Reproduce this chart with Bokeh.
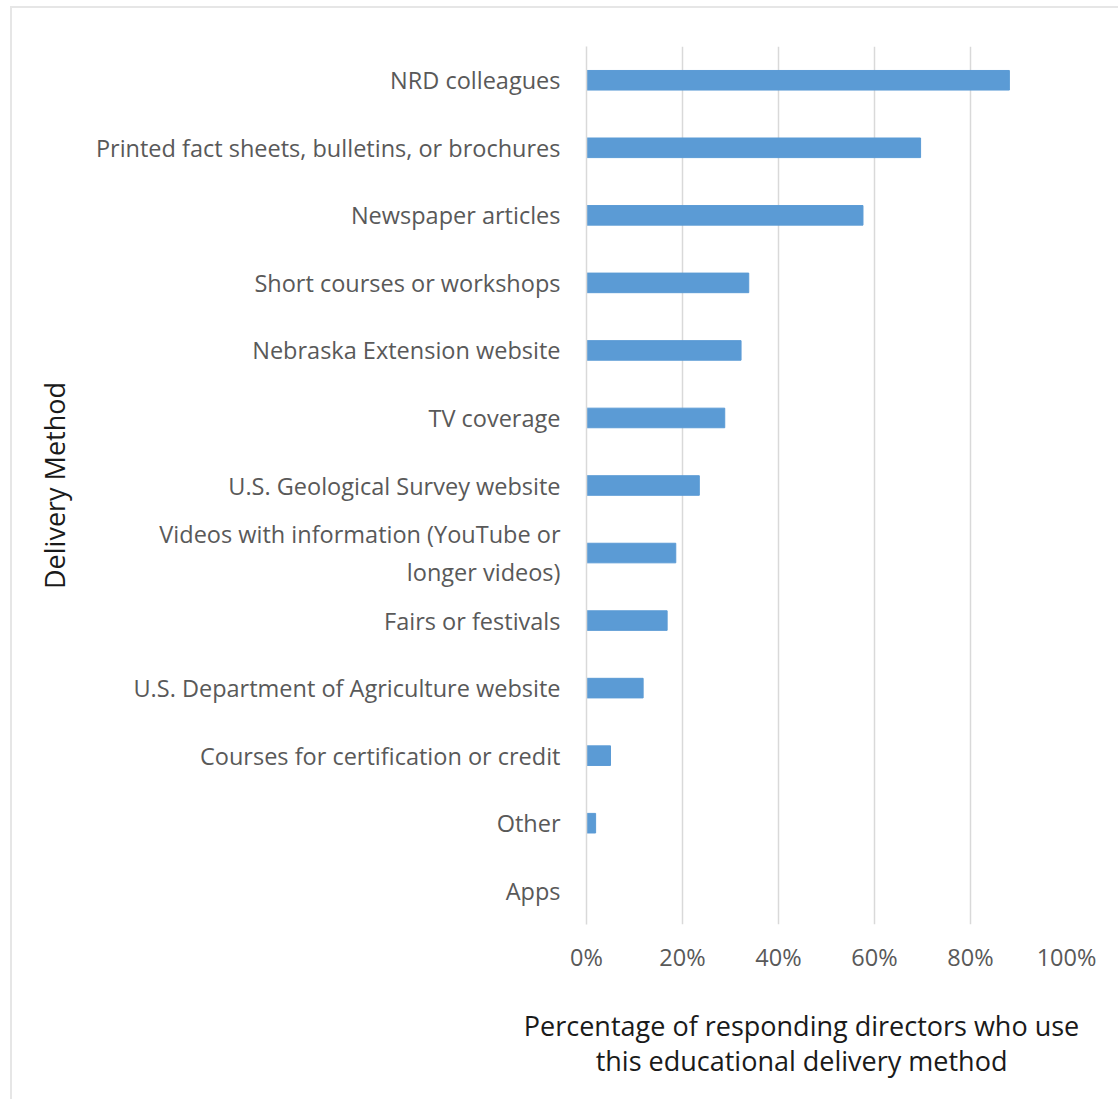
from bokeh.plotting import figure
from bokeh.layouts import column
from bokeh.models import FactorRange, NumeralTickFormatter, FixedTicker, Range1d
from bokeh.core.properties import value
from bokeh.embed import file_html
from bokeh.resources import INLINE

categories = [
    "NRD colleagues",
    "Printed fact sheets, bulletins, or brochures",
    "Newspaper articles",
    "Short courses or workshops",
    "Nebraska Extension website",
    "TV coverage",
    "U.S. Geological Survey website",
    "Videos with information (YouTube or\nlonger videos)",
    "Fairs or festivals",
    "U.S. Department of Agriculture website",
    "Courses for certification or credit",
    "Other",
    "Apps",
]
values = [0.881, 0.696, 0.576, 0.338, 0.322, 0.288, 0.235, 0.186, 0.168, 0.118, 0.050, 0.019, 0.0]
x_ticks = [0.0, 0.2, 0.4, 0.6, 0.8, 1.0]
x_title = "Percentage of responding directors who use\nthis educational delivery method"
y_title = "Delivery Method"

FONT = "Open Sans"
TICK_SIZE = "23.5px"
TITLE_SIZE = "27px"
W = 1106
ML, MR = 574, 52
FW = W - ML - MR

p = figure(
    width=W, height=982,
    y_range=FactorRange(factors=list(reversed(categories)), range_padding=0),
    x_range=Range1d(0, 1),
    output_backend="svg", toolbar_location=None,
    min_border_left=ML, min_border_right=MR, min_border_top=38, min_border_bottom=66,
)
p.frame_align = False

p.hbar(y=categories, right=values, left=0, height=0.29, color="#5B9BD5")

p.outline_line_color = None
p.background_fill_color = "white"
p.border_fill_color = "white"

# x axis
p.xaxis.ticker = FixedTicker(ticks=x_ticks)
p.xaxis.formatter = NumeralTickFormatter(format="0%")
p.xaxis.axis_line_color = None
p.xaxis.major_tick_line_color = None
p.xaxis.minor_tick_line_color = None
p.xaxis.major_tick_out = 0
p.xaxis.minor_tick_out = 0
p.xaxis.major_label_text_font = FONT
p.xaxis.major_label_text_font_size = TICK_SIZE
p.xaxis.major_label_text_color = "#595959"
p.xaxis.major_label_standoff = 16

p.xgrid.grid_line_color = "#d9d9d9"
p.xgrid.grid_line_width = 1.5
p.ygrid.grid_line_color = None

# y axis
p.yaxis.axis_line_color = "#d9d9d9"
p.yaxis.axis_line_width = 1.5
p.yaxis.major_tick_line_color = None
p.yaxis.minor_tick_line_color = None
p.yaxis.major_tick_out = 0
p.yaxis.minor_tick_out = 0
p.yaxis.major_label_text_font = FONT
p.yaxis.major_label_text_font_size = TICK_SIZE
p.yaxis.major_label_text_color = "#595959"
p.yaxis.major_label_standoff = 26
p.yaxis.axis_label = y_title
p.yaxis.axis_label_text_font = FONT
p.yaxis.axis_label_text_font_size = TITLE_SIZE
p.yaxis.axis_label_text_font_style = "normal"
p.yaxis.axis_label_text_color = "#1a1a1a"
p.yaxis.axis_label_standoff = 20

# x axis title drawn in a strip below, on the same horizontal scale as the chart
p2 = figure(
    width=W, height=109,
    x_range=Range1d(-ML / FW, (W - ML) / FW), y_range=Range1d(0, 1),
    output_backend="svg", toolbar_location=None,
    min_border_left=0, min_border_right=0, min_border_top=0, min_border_bottom=0,
)
p2.frame_align = False
p2.axis.visible = False
p2.grid.visible = False
p2.outline_line_color = None
p2.border_fill_color = "white"
p2.text(
    x=[0.448], y=[0.518], text=[x_title],
    text_align="center", text_baseline="middle",
    text_font=value(FONT), text_font_size=TITLE_SIZE, text_color="#1a1a1a",
    text_line_height=0.95,
)

layout = column(p, p2, spacing=0)
layout.margin = (6, 0, 0, 10)
layout.styles = {"border-top": "2px solid #e6e6e6", "border-left": "2px solid #e6e6e6"}

open("out.html", "w").write(file_html(layout, INLINE))
